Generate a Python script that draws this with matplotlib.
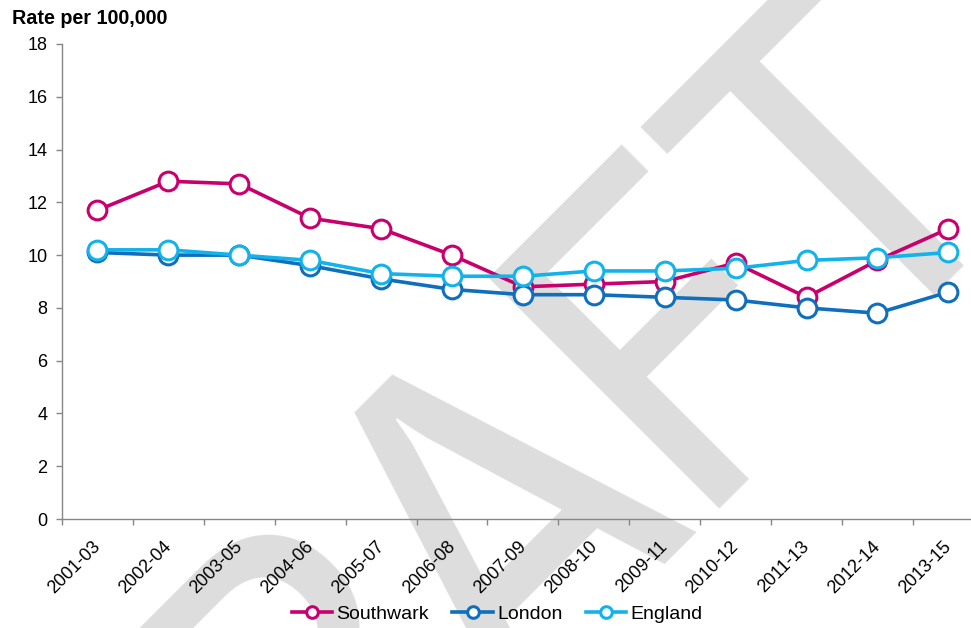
import matplotlib
matplotlib.use("Agg")
from matplotlib import pyplot as plt
from matplotlib.transforms import ScaledTranslation
from matplotlib.textpath import TextPath
from matplotlib.font_manager import FontProperties

periods = ["2001-03", "2002-04", "2003-05", "2004-06", "2005-07", "2006-08", "2007-09",
           "2008-10", "2009-11", "2010-12", "2011-13", "2012-14", "2013-15"]
southwark = [11.7, 12.8, 12.7, 11.4, 11.0, 10.0, 8.8, 8.9, 9.0, 9.7, 8.4, 9.8, 11.0]
london = [10.1, 10.0, 10.0, 9.6, 9.1, 8.7, 8.5, 8.5, 8.4, 8.3, 8.0, 7.8, 8.6]
england = [10.2, 10.2, 10.0, 9.8, 9.3, 9.2, 9.2, 9.4, 9.4, 9.5, 9.8, 9.9, 10.1]

plt.rcParams['font.family'] = ['Liberation Sans', 'DejaVu Sans']

W, H = 971, 628
fig = plt.figure(figsize=(W / 100, H / 100), dpi=100)
ax = fig.add_axes([62 / W, 1 - 519 / H, (W - 62) / W, 475 / H])
ax.set_facecolor('none')

# draft watermark: size it so the A apex and the foot of the T land where they are in the original
wm_font = FontProperties(family=['Archivo Narrow', 'Liberation Sans'])
def ink(s):
    return TextPath((0, 0), s, size=100, prop=wm_font).get_extents()
left0 = ink("DRAFT").x0
a_c = ink("DRA").x1 - ink("A").width / 2 - left0
t_c = ink("DRAFT").x1 - ink("T").width / 2 - left0
cap = ink("T").y1
k = 0.5 * (456 / (t_c - a_c) + 347 / cap)   # px per font unit
c = 0.7071
mid_along = k * (a_c + t_c) / 2
mid_up = k * cap / 2
sx = 629 - mid_along * c + mid_up * c
sy = 336 + mid_along * c + mid_up * c
fig.text(sx / W, 1 - sy / H, "DRAFT", fontproperties=wm_font, fontsize=k * 100 * 0.72,
         color='#dddddd', rotation=45, rotation_mode='anchor',
         ha='left', va='baseline', zorder=-1)

x = list(range(len(periods)))
series = [("Southwark", southwark, '#c8006e'),
          ("London", london, '#106fbd'),
          ("England", england, '#12b3ea')]
for name, vals, col in series:
    ax.plot(x, vals, '-o', color=col, lw=2.6, ms=13.5, mfc='white',
            mec=col, mew=2.2, label=name)

ax.set_xlim(-0.5, 12.32)
ax.set_ylim(0, 18)
ax.set_yticks(range(0, 19, 2))
ax.set_xticks(x)
ax.set_xticklabels(periods, rotation=45, ha='right', va='top', rotation_mode='anchor')
ax.set_xticks([i - 0.5 for i in range(13)], minor=True)
ax.tick_params(axis='x', which='major', length=0, pad=13.5, labelsize=13)
ax.tick_params(axis='x', which='minor', length=4.5, width=1, color='#868686')
ax.tick_params(axis='y', length=4.5, width=1, color='#868686', labelsize=13, pad=6)
for lab in ax.get_xticklabels():
    lab.set_transform(lab.get_transform() + ScaledTranslation(-0.055, 0, fig.dpi_scale_trans))

for s in ['top', 'right']:
    ax.spines[s].set_visible(False)
for s in ['left', 'bottom']:
    ax.spines[s].set_color('#868686')
    ax.spines[s].set_linewidth(1)

fig.text(12 / W, 1 - 18 / H, "Rate per 100,000", fontsize=14.2, fontweight='bold', va='center')

fig.legend(loc='center', bbox_to_anchor=(497 / W, 1 - 614 / H), ncol=3, frameon=False,
           fontsize=14, handlelength=2.1, handletextpad=0.2, columnspacing=1.2,
           markerscale=0.62)

fig.savefig("out.png", dpi=100)
